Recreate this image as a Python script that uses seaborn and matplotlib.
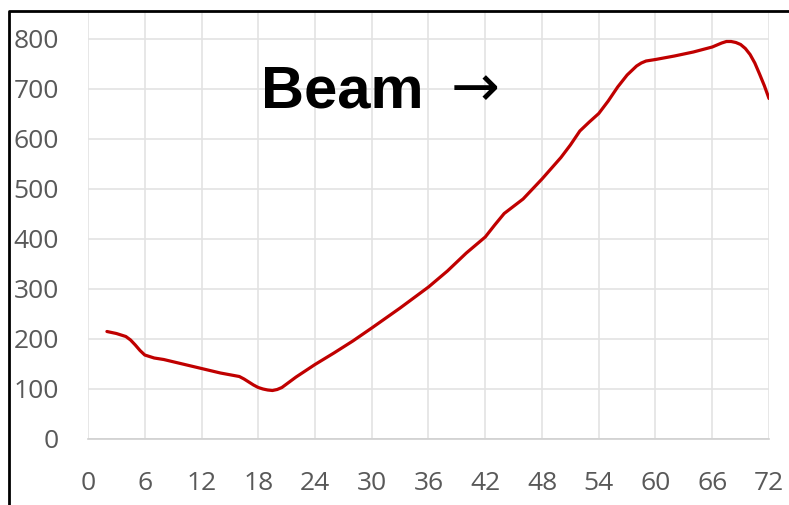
import matplotlib
matplotlib.use('Agg')
import matplotlib.pyplot as plt
import seaborn as sns
import pandas as pd
from matplotlib.lines import Line2D

# --- datos ---
posicion = [2, 3, 4, 4.5, 5, 5.5, 6, 7, 8, 10, 12, 14, 16, 16.5, 17, 17.5, 18, 18.5, 19,
            19.5, 20, 20.5, 21, 22, 24, 26, 28, 30, 33, 36, 38, 40, 41, 42, 43, 44, 46,
            48, 50, 51, 52, 53, 54, 55, 56, 57, 58, 58.5, 59, 60, 62, 64, 66, 66.5, 67,
            67.5, 68, 68.5, 69, 69.5, 70, 70.5, 71, 71.5, 72]
valor = [215, 211, 205, 198, 188, 177, 168, 162, 159, 150, 141, 132, 125, 120, 114, 108,
         103, 100, 98, 97, 99, 103, 110, 124, 149, 172, 196, 222, 262, 304, 336, 372, 388,
         404, 428, 451, 480, 520, 563, 588, 616, 634, 651, 676, 704, 728, 746, 752, 756,
         759, 766, 774, 784, 788, 792, 795, 795, 793, 789, 781, 769, 752, 730, 707, 681]
xticks = list(range(0, 73, 6))
yticks = list(range(0, 801, 100))

df = pd.DataFrame({'x': posicion, 'y': valor})

sns.set_style('white')
plt.rcParams['font.family'] = ['Open Sans', 'DejaVu Sans']

fig = plt.figure(figsize=(7.89, 5.05), dpi=100)
ax = fig.add_axes([88 / 789, 1 - 439 / 505, (769 - 88) / 789, (439 - 10) / 505])

sns.lineplot(data=df, x='x', y='y', color='#C00000', linewidth=2.3, ax=ax)

ax.set_xlim(0, 72)
ax.set_ylim(0, 858)
ax.set_xticks(xticks)
ax.set_yticks(yticks)
ax.grid(True, color='#e3e3e3', linewidth=1.2)
ax.set_axisbelow(True)
ax.tick_params(length=0, labelsize=19, colors='#595959')
ax.tick_params(axis='y', pad=21)
ax.tick_params(axis='x', pad=23)
ax.set_xlabel('')
ax.set_ylabel('')
for s in ['top', 'right', 'left']:
    ax.spines[s].set_visible(False)
ax.spines['bottom'].set_color('#d0d0d0')
ax.spines['bottom'].set_linewidth(1.2)

ax.text(18.3, 664, 'Beam', fontsize=43, fontweight='bold', color='black',
        family=['Liberation Sans', 'DejaVu Sans'], va='baseline', ha='left')
ax.text(38.3, 698, '\u2192', fontsize=42, color='black',
        family=['DejaVu Sans'], va='center', ha='left')

# borde negro (izquierda y arriba)
bx = 8.5 / 789
by = 1 - 10.5 / 505
fig.add_artist(Line2D([bx, bx, 1], [0, by, by], transform=fig.transFigure,
                      color='black', linewidth=2))

fig.savefig('out.png', dpi=100)
